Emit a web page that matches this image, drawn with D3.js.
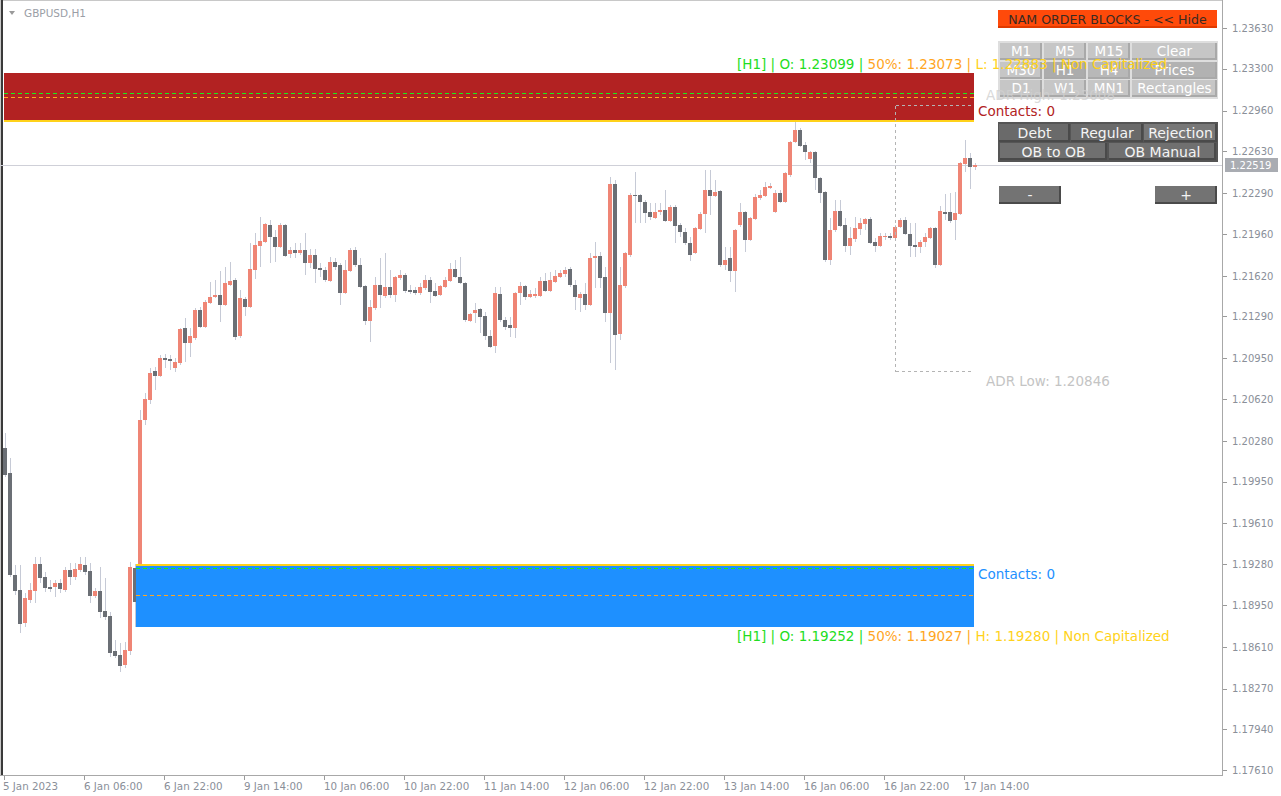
<!DOCTYPE html>
<html><head><meta charset="utf-8">
<script src="https://cdn.jsdelivr.net/npm/d3@7"></script>
<style>
html,body{margin:0;padding:0;background:#fff;overflow:hidden}
svg{display:block}
text{font-family:"DejaVu Sans",sans-serif}
</style></head><body>
<svg id="c" width="1281" height="796"></svg>
<script>
// ---------------- data ----------------
const symbolLabel = "GBPUSD,H1";
const priceTicks = [1.23630,1.23300,1.22960,1.22630,1.22290,1.21960,1.21620,1.21290,1.20950,1.20620,1.20280,1.19950,1.19610,1.19280,1.18950,1.18610,1.18270,1.17940,1.17610];
const timeTickBars = [0,16,32,48,64,80,96,112,128,144,160,176,192];
const timeLabels = ["5 Jan 2023","6 Jan 06:00","6 Jan 22:00","9 Jan 14:00","10 Jan 06:00","10 Jan 22:00","11 Jan 14:00","12 Jan 06:00","12 Jan 22:00","13 Jan 14:00","16 Jan 06:00","16 Jan 22:00","17 Jan 14:00"];

const open = [1.20222,1.20020,1.19192,1.19070,1.18803,1.18989,1.19062,1.19282,1.19176,1.19094,1.19094,1.19127,1.19070,1.19233,1.19176,1.19233,1.19273,1.19225,1.19021,1.19062,1.18900,1.18859,1.18576,1.18543,1.18461,1.18576,1.19252,1.18980,1.20450,1.20612,
1.20847,1.20806,1.20952,1.20944,1.20871,1.20912,1.21196,1.21075,1.21115,1.21342,1.21204,1.21399,1.21447,1.21463,1.21382,1.21544,1.21585,1.21131,1.21431,1.21366,1.21667,1.21861,1.21894,1.22031,1.21934,1.21853,1.22031,1.21797,1.21829,1.21805,
1.21829,1.21724,1.21788,1.21683,1.21667,1.21577,1.21732,1.21707,1.21480,1.21659,1.21829,1.21707,1.21536,1.21253,1.21358,1.21544,1.21455,1.21528,1.21463,1.21602,1.21626,1.21504,1.21504,1.21480,1.21520,1.21585,1.21496,1.21463,1.21528,1.21577,
1.21675,1.21610,1.21561,1.21253,1.21318,1.21350,1.21293,1.21131,1.21050,1.21472,1.21261,1.21220,1.21196,1.21480,1.21536,1.21447,1.21455,1.21455,1.21577,1.21496,1.21569,1.21610,1.21634,1.21675,1.21544,1.21439,1.21472,1.21382,1.21764,1.21780,
1.21610,1.21318,1.22365,1.21148,1.21536,1.21788,1.22275,1.22275,1.22218,1.22137,1.22088,1.22137,1.22153,1.22064,1.22177,1.22031,1.21975,1.21886,1.21805,1.21999,1.22121,1.22316,1.22267,1.22308,1.21707,1.21764,1.21659,1.22031,1.22137,1.21910,
1.22080,1.22250,1.22267,1.22332,1.22137,1.22292,1.22218,1.22437,1.22705,1.22802,1.22680,1.22567,1.22624,1.22413,1.22300,1.21748,1.21991,1.22145,1.22031,1.21861,1.21918,1.21999,1.22040,1.22080,1.21894,1.21861,1.21934,1.21942,1.21926,1.22015,
1.22072,1.21959,1.21869,1.21853,1.21894,1.21926,1.22007,1.21707,1.22137,1.22137,1.22072,1.22121,1.22527,1.22575,1.22502];
const high = [1.20344,1.20141,1.19273,1.19273,1.19046,1.19127,1.19338,1.19338,1.19217,1.19151,1.19151,1.19160,1.19257,1.19290,1.19290,1.19338,1.19338,1.19290,1.19086,1.19257,1.19168,1.18892,1.18665,1.18641,1.18649,1.19298,1.19280,1.20531,1.20669,1.20871,
1.20879,1.20976,1.20985,1.20976,1.20952,1.21196,1.21277,1.21196,1.21358,1.21366,1.21423,1.21569,1.21585,1.21659,1.21691,1.21732,1.21602,1.21504,1.21447,1.21886,1.21967,1.22096,1.22048,1.22072,1.21991,1.22048,1.22040,1.21853,1.21886,1.21886,
1.21967,1.21837,1.21837,1.21724,1.21691,1.21772,1.21764,1.21724,1.21748,1.21845,1.21853,1.21764,1.21544,1.21423,1.21610,1.21764,1.21805,1.21667,1.21618,1.21667,1.21642,1.21544,1.21528,1.21561,1.21626,1.21610,1.21561,1.21544,1.21610,1.21724,
1.21748,1.21772,1.21569,1.21318,1.21399,1.21358,1.21326,1.21180,1.21528,1.21528,1.21285,1.21285,1.21488,1.21569,1.21544,1.21504,1.21520,1.21610,1.21642,1.21651,1.21667,1.21667,1.21691,1.21691,1.21585,1.21488,1.21561,1.21805,1.21894,1.21813,
1.21691,1.22421,1.22397,1.21691,1.21813,1.22292,1.22462,1.22284,1.22234,1.22210,1.22210,1.22210,1.22316,1.22193,1.22193,1.22048,1.22007,1.21934,1.22015,1.22137,1.22478,1.22478,1.22397,1.22316,1.21853,1.21853,1.21999,1.22210,1.22145,1.22096,
1.22284,1.22316,1.22381,1.22373,1.22316,1.22316,1.22462,1.22713,1.22883,1.22818,1.22705,1.22632,1.22632,1.22421,1.22308,1.22088,1.22234,1.22234,1.22088,1.22015,1.22096,1.22088,1.22088,1.22096,1.21926,1.21967,1.21967,1.21967,1.22031,1.22088,
1.22096,1.22048,1.22048,1.21910,1.21967,1.22015,1.22015,1.22185,1.22284,1.22292,1.22300,1.22543,1.22721,1.22616,1.22535];
const low = [1.19987,1.19176,1.19029,1.18722,1.18770,1.18965,1.18965,1.19127,1.19054,1.19054,1.19013,1.19046,1.19054,1.19110,1.19151,1.19217,1.19192,1.18965,1.19005,1.18843,1.18827,1.18527,1.18519,1.18405,1.18437,1.18543,1.18774,1.18960,1.20409,1.20580,
1.20693,1.20798,1.20871,1.20855,1.20839,1.20895,1.20920,1.20960,1.21099,1.21196,1.21196,1.21390,1.21440,1.21245,1.21374,1.21536,1.21099,1.21115,1.21293,1.21358,1.21594,1.21691,1.21886,1.21724,1.21732,1.21845,1.21772,1.21764,1.21764,1.21788,
1.21626,1.21683,1.21561,1.21610,1.21569,1.21569,1.21667,1.21382,1.21472,1.21651,1.21691,1.21520,1.21220,1.21083,1.21342,1.21358,1.21439,1.21439,1.21407,1.21585,1.21480,1.21472,1.21463,1.21463,1.21504,1.21399,1.21447,1.21455,1.21520,1.21569,
1.21602,1.21553,1.21245,1.21245,1.21237,1.21156,1.21099,1.21034,1.20993,1.21245,1.21180,1.21123,1.21115,1.21382,1.21423,1.21439,1.21439,1.21447,1.21488,1.21488,1.21561,1.21602,1.21610,1.21528,1.21342,1.21326,1.21342,1.21374,1.21520,1.21520,
1.21245,1.20912,1.20855,1.21099,1.21520,1.21772,1.22048,1.22048,1.22048,1.22072,1.22080,1.22112,1.22056,1.22056,1.21886,1.21934,1.21869,1.21740,1.21797,1.21991,1.21967,1.22112,1.22259,1.21691,1.21667,1.21569,1.21488,1.22015,1.21813,1.21902,
1.22072,1.22234,1.22259,1.22324,1.22129,1.22210,1.22210,1.22421,1.22697,1.22664,1.22559,1.22535,1.22316,1.22210,1.21732,1.21707,1.21975,1.22015,1.21813,1.21788,1.21894,1.21950,1.21991,1.21878,1.21813,1.21853,1.21910,1.21910,1.21910,1.22007,
1.21950,1.21772,1.21772,1.21805,1.21853,1.21918,1.21683,1.21699,1.22072,1.22048,1.21910,1.22112,1.22462,1.22324,1.22478];
const close = [1.20003,1.19192,1.19062,1.18795,1.19005,1.19070,1.19282,1.19168,1.19086,1.19078,1.19127,1.19078,1.19233,1.19176,1.19241,1.19282,1.19217,1.19021,1.19062,1.18892,1.18851,1.18560,1.18535,1.18453,1.18584,1.19257,1.18973,1.20450,1.20620,1.20831,
1.20806,1.20952,1.20936,1.20928,1.20920,1.21188,1.21075,1.21131,1.21342,1.21204,1.21407,1.21447,1.21463,1.21382,1.21561,1.21577,1.21123,1.21439,1.21366,1.21675,1.21869,1.21902,1.22040,1.21934,1.21853,1.22031,1.21780,1.21829,1.21805,1.21829,
1.21724,1.21788,1.21675,1.21667,1.21585,1.21732,1.21691,1.21480,1.21667,1.21829,1.21707,1.21528,1.21253,1.21366,1.21544,1.21463,1.21528,1.21463,1.21610,1.21626,1.21496,1.21488,1.21480,1.21528,1.21585,1.21488,1.21455,1.21536,1.21585,1.21675,
1.21610,1.21561,1.21261,1.21310,1.21342,1.21285,1.21131,1.21042,1.21480,1.21261,1.21204,1.21196,1.21480,1.21536,1.21447,1.21472,1.21472,1.21577,1.21496,1.21585,1.21618,1.21642,1.21667,1.21544,1.21447,1.21472,1.21382,1.21764,1.21780,1.21602,
1.21318,1.22365,1.21139,1.21544,1.21805,1.22275,1.22267,1.22218,1.22129,1.22096,1.22137,1.22153,1.22064,1.22177,1.22023,1.21975,1.21886,1.21788,1.22007,1.22121,1.22316,1.22267,1.22300,1.21707,1.21748,1.21659,1.21991,1.22137,1.21910,1.22088,
1.22259,1.22275,1.22340,1.22348,1.22292,1.22218,1.22454,1.22705,1.22802,1.22672,1.22624,1.22624,1.22413,1.22292,1.21748,1.21991,1.22145,1.22023,1.21861,1.21926,1.22007,1.22048,1.22080,1.21886,1.21861,1.21942,1.21942,1.21926,1.22015,1.22072,
1.21959,1.21861,1.21853,1.21894,1.21934,1.22007,1.21707,1.22145,1.22121,1.22064,1.22129,1.22535,1.22575,1.22502,1.22519];

const lastPrice = 1.22519;
// order blocks: [high, open, mid(50%), low]
const supplyBlock = [1.23263, 1.23099, 1.23073, 1.22883];
const demandBlock = [1.19280, 1.19252, 1.19027, 1.18774];
const blockBars = [[-0.2, 193.8], [26.2, 193.8]];
const adrLevels = [1.23008, 1.20846];
const adrBars = [178, 193.4];
const contactsCount = [0, 0];

const headerLabel = "NAM ORDER BLOCKS - << Hide";
const tfButtons = [["M1","M5","M15","Clear"],["M30","H1","H4","Prices"],["D1","W1","MN1","Rectangles"]];
const modeButtons = ["Debt","Regular","Rejection"];
const obButtons = ["OB to OB","OB Manual"];
const zoomButtons = ["-","+"];

// ---------------- drawing ----------------
const svg = d3.select("#c");
const plotRight = 1222, plotBottom = 775;
const x = d3.scaleLinear().domain([0, 243.4]).range([5, plotRight]);
const y = d3.scaleLinear().domain([1.17610, 1.23630]).range([770, 28]);
const fmt = d3.format(".5f");
const cy = v => Math.round(y(v)) + 0.5;

svg.append("rect").attr("width",1281).attr("height",796).attr("fill","#fff");

// frame
svg.append("rect").attr("x",0.5).attr("y",0.5).attr("width",plotRight).attr("height",plotBottom)
  .attr("fill","none").attr("stroke","#c8c8c8").attr("stroke-width",1);
svg.append("line").attr("x1",plotRight+0.5).attr("x2",plotRight+0.5).attr("y1",0).attr("y2",plotBottom+1)
  .attr("stroke","#a8a8a8");
svg.append("line").attr("x1",0).attr("x2",plotRight+1).attr("y1",plotBottom+0.5).attr("y2",plotBottom+0.5)
  .attr("stroke","#a8a8a8");
svg.append("rect").attr("x",1).attr("y",0).attr("width",2).attr("height",plotBottom).attr("fill","#3a3a3a");

// current price line
svg.append("line").attr("x1",0).attr("x2",plotRight).attr("y1",cy(lastPrice)).attr("y2",cy(lastPrice))
  .attr("stroke","#cfd0d8").attr("stroke-width",1);

// candles
const bars = d3.range(open.length);
const cg = svg.append("g").attr("shape-rendering","crispEdges");
cg.selectAll("rect.w").data(bars).join("rect").attr("class","w")
  .attr("x", i => Math.round(x(i)))
  .attr("y", i => Math.round(y(high[i])))
  .attr("width", 1)
  .attr("height", i => Math.max(1, Math.round(y(low[i])) - Math.round(y(high[i]))))
  .attr("fill", "#c6cad6");
cg.selectAll("rect.b").data(bars).join("rect").attr("class","b")
  .attr("x", i => Math.round(x(i)) - 2)
  .attr("y", i => Math.round(Math.min(y(open[i]), y(close[i]))))
  .attr("width", 4)
  .attr("height", i => Math.max(1, Math.round(Math.abs(y(open[i]) - y(close[i])))))
  .attr("fill", i => close[i] >= open[i] ? "#ef8575" : "#6b6f75");

// order block zones
function drawBlock(vals, span, fill, edgeVal) {
  const g = svg.append("g").attr("shape-rendering","crispEdges");
  const x0 = Math.round(x(span[0])), x1 = Math.round(x(span[1]));
  g.append("rect").attr("x", x0).attr("y", Math.round(y(vals[0]))).attr("width", x1 - x0)
    .attr("height", Math.round(y(vals[3])) - Math.round(y(vals[0]))).attr("fill", fill);
  g.append("line").attr("x1", x0).attr("x2", x1).attr("y1", cy(edgeVal)).attr("y2", cy(edgeVal))
    .attr("stroke", "#ffd21a").attr("stroke-width", 2);
  g.append("line").attr("x1", x0).attr("x2", x1).attr("y1", cy(vals[1])).attr("y2", cy(vals[1]))
    .attr("stroke", "#19f019").attr("stroke-dasharray", "4,3").attr("stroke-width", 1);
  g.append("line").attr("x1", x0).attr("x2", x1).attr("y1", cy(vals[2])).attr("y2", cy(vals[2]))
    .attr("stroke", "#ffa51e").attr("stroke-dasharray", "4,3").attr("stroke-width", 1);
}
drawBlock(supplyBlock, blockBars[0], "#b22222", supplyBlock[3]);
drawBlock(demandBlock, blockBars[1], "#1e90ff", demandBlock[0]);

// ADR box
const ag = svg.append("g").attr("stroke","#b4b4b4").attr("stroke-dasharray","3,3").attr("fill","none").attr("shape-rendering","crispEdges");
const ax0 = Math.round(x(adrBars[0])) + 0.5, ax1 = x(adrBars[1]);
const ayH = cy(adrLevels[0]), ayL = cy(adrLevels[1]);
ag.append("line").attr("x1",ax0).attr("x2",ax0).attr("y1",ayH).attr("y2",ayL);
ag.append("line").attr("x1",ax0).attr("x2",ax1).attr("y1",ayH).attr("y2",ayH);
ag.append("line").attr("x1",ax0).attr("x2",ax1).attr("y1",ayL).attr("y2",ayL);

// price axis
const pa = svg.append("g");
pa.selectAll("line").data(priceTicks).join("line")
  .attr("x1", plotRight+1).attr("x2", plotRight+5)
  .attr("y1", d => cy(d)).attr("y2", d => cy(d))
  .attr("stroke","#9a9a9a");
pa.selectAll("text").data(priceTicks).join("text")
  .attr("x", 1232).attr("y", d => y(d) + 3.8)
  .attr("font-size", 10).attr("fill", "#8a8f99")
  .text(d => fmt(d));
// last price box
svg.append("rect").attr("x",1225).attr("y",Math.round(y(lastPrice))-7).attr("width",53).attr("height",14).attr("fill","#a9acb2");
svg.append("text").attr("x",1230).attr("y",y(lastPrice)+3.8).attr("font-size",10).attr("fill","#ffffff").text(fmt(lastPrice));

// time axis
const ta = svg.append("g");
ta.selectAll("line").data(timeTickBars).join("line")
  .attr("x1", d => Math.round(x(d)) - 0.5).attr("x2", d => Math.round(x(d)) - 0.5)
  .attr("y1", plotBottom+1).attr("y2", plotBottom+5).attr("stroke","#9a9a9a");
ta.selectAll("text").data(timeTickBars).join("text")
  .attr("x", (d,i) => i === 0 ? 3 : x(d) - 1).attr("y", 790)
  .attr("font-size", 10.3).attr("fill", "#8a8f99")
  .text((d,i) => timeLabels[i]);

// title
svg.append("path").attr("d","M9,11 L15,11 L12,15 Z").attr("fill","#9a9a9a");
svg.append("text").attr("x",24).attr("y",17).attr("font-size",10.5).attr("fill","#9a9ea6").text(symbolLabel);

// ---- button panel ----
const bp = svg.append("g").attr("shape-rendering","crispEdges");
function button(g, bx, by, bw, bh, label, fill, txt, fs, dark) {
  g.append("rect").attr("x",bx).attr("y",by).attr("width",bw).attr("height",bh).attr("fill",fill);
  g.append("rect").attr("x",bx).attr("y",by+bh-2).attr("width",bw).attr("height",2).attr("fill",dark);
  g.append("rect").attr("x",bx+bw-2).attr("y",by).attr("width",2).attr("height",bh).attr("fill",dark);
  g.append("text").attr("x",bx+bw/2).attr("y",by+bh/2+fs*0.36).attr("text-anchor","middle")
    .attr("font-size",fs).attr("fill",txt).text(label);
}
// header
bp.append("rect").attr("x",998).attr("y",10).attr("width",219).attr("height",18).attr("fill","#ff4a0a");
bp.append("rect").attr("x",998).attr("y",26).attr("width",219).attr("height",2).attr("fill","#e03a00");
bp.append("text").attr("x",1107.5).attr("y",24).attr("text-anchor","middle").attr("font-size",12.6)
  .attr("fill","#3b2a22").text(headerLabel);
// timeframe grid
bp.append("rect").attr("x",998).attr("y",41).attr("width",220).attr("height",58).attr("fill","#dedede");
const colX = [1000,1044,1088,1132], colW = [42,42,42,85], rowY = [43,62,80];
const tfFill = [["#c6c6c6","#c6c6c6","#c6c6c6","#c6c6c6"],["#c6c6c6","#acacac","#b8b8b8","#b2b2b2"],["#c6c6c6","#c6c6c6","#c6c6c6","#c6c6c6"]];
tfButtons.forEach((row, r) => row.forEach((lab, c) =>
  button(bp, colX[c], rowY[r], colW[c], 17, lab, tfFill[r][c], "#ffffff", 13.5, "#a9a9a9")));
// mode buttons
bp.append("rect").attr("x",998).attr("y",122).attr("width",220).attr("height",40).attr("fill","#555555");
const modeX = [999,1071,1144], modeW = [71,72,73];
modeButtons.forEach((lab, i) => button(bp, modeX[i], 124, modeW[i], 18, lab, i === 2 ? "#777777" : "#6a6a6a", "#f4f4f4", 14, "#4a4a4a"));
const obX = [1000,1109], obW = [107,107];
obButtons.forEach((lab, i) => button(bp, obX[i], 143, obW[i], 17, lab, "#707070", "#f4f4f4", 14, "#4a4a4a"));
const zX = [999,1155];
zoomButtons.forEach((lab, i) => button(bp, zX[i], 186, 62, 18, lab, "#737373", "#f4f4f4", 14, "#4a4a4a"));

// ---- texts ----
function blockLabel(ty, vals, edgeName, edgeVal) {
  const t = svg.append("text").attr("x",737).attr("y",ty).attr("font-size",13.5);
  t.append("tspan").attr("fill","#22dd22").text(`[H1] | O: ${fmt(vals[1])} | `);
  t.append("tspan").attr("fill","#ffa51e").text(`50%: ${fmt(vals[2])} | `);
  t.append("tspan").attr("fill","#ffd21a").text(`${edgeName}: ${fmt(edgeVal)} | Non Capitalized`);
}
blockLabel(69, supplyBlock, "L", supplyBlock[3]);
blockLabel(641, demandBlock, "H", demandBlock[0]);

svg.append("text").attr("x",978).attr("y",116).attr("font-size",13.5).attr("fill","#b22222").text(`Contacts: ${contactsCount[0]}`);
svg.append("text").attr("x",978).attr("y",579).attr("font-size",13.5).attr("fill","#1e90ff").text(`Contacts: ${contactsCount[1]}`);
svg.append("text").attr("x",986).attr("y",100).attr("font-size",13.5).attr("fill","#d0d0d0").attr("opacity",0.8).text(`ADR High: ${fmt(adrLevels[0])}`);
svg.append("text").attr("x",986).attr("y",386).attr("font-size",13.5).attr("fill","#c4c4c4").text(`ADR Low: ${fmt(adrLevels[1])}`);
</script>
</body></html>
